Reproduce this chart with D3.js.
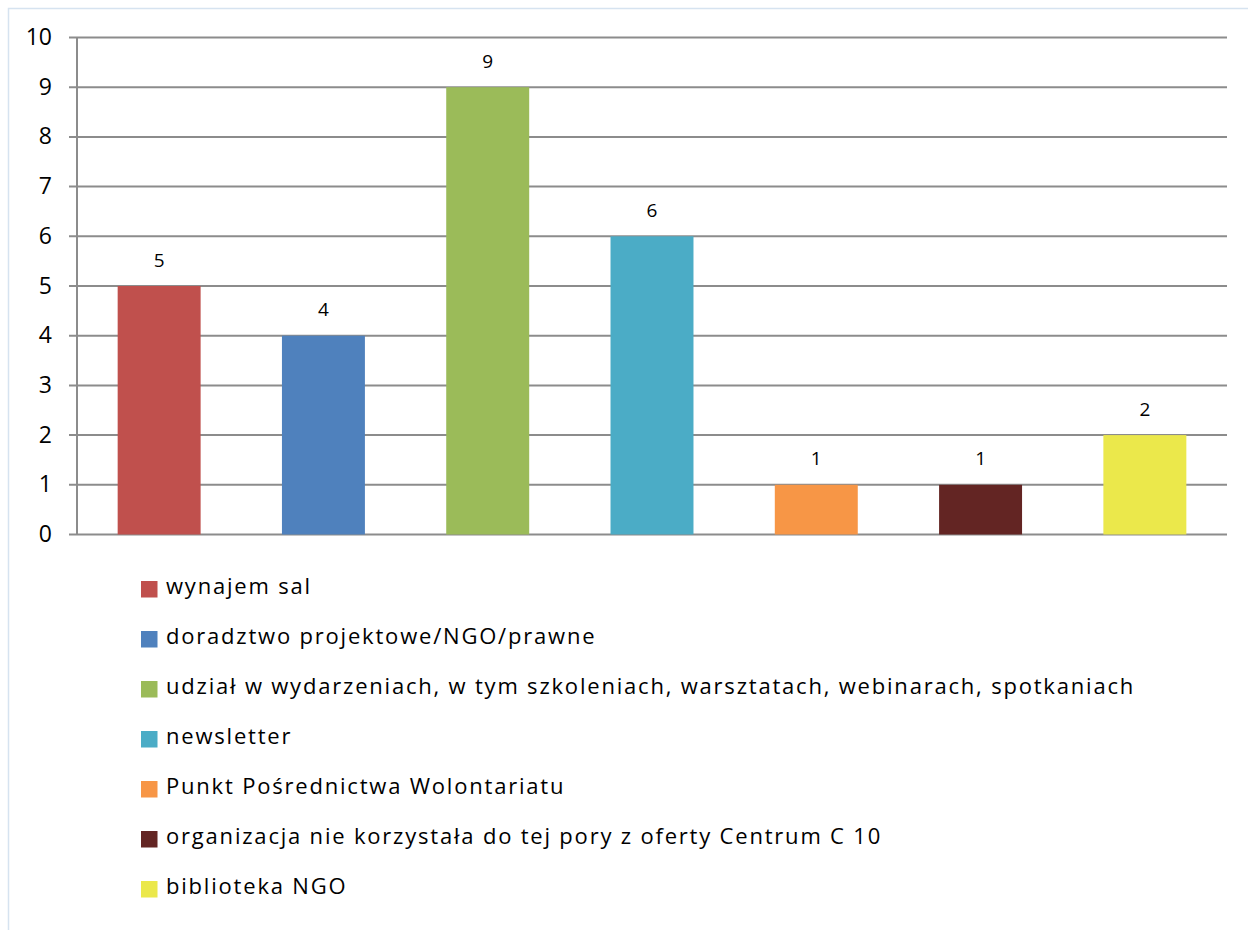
<!DOCTYPE html>
<html lang="pl">
<head>
  <meta charset="UTF-8" />
  <title>Oferta Centrum</title>
  <script src="https://d3js.org/d3.v7.min.js"></script>
  <style>
    body {
      margin: 0;
      background: #fff;
      font-family: "Open Sans", Lato, sans-serif;
    }
    svg { display: block; }
  </style>
</head>
<body>
  <svg id="chart" width="1248" height="930"></svg>

  <script>
    const categories = [
      "wynajem sal",
      "doradztwo projektowe/NGO/prawne",
      "udział w wydarzeniach, w tym szkoleniach, warsztatach, webinarach, spotkaniach",
      "newsletter",
      "Punkt Pośrednictwa Wolontariatu",
      "organizacja nie korzystała do tej pory z oferty Centrum C 10",
      "biblioteka NGO"
    ];
    const values = [5, 4, 9, 6, 1, 1, 2];
    const colors = ["#C0504D", "#4F81BD", "#9BBB59", "#4BACC6", "#F79646", "#632523", "#EBE84B"];
    const yTicks = [0, 1, 2, 3, 4, 5, 6, 7, 8, 9, 10];

    const svg = d3.select("#chart");

    // outer frame (only left and top edges visible)
    svg.append("rect")
      .attr("x", 8.5).attr("y", 8.5)
      .attr("width", 1300).attr("height", 1000)
      .attr("fill", "none")
      .attr("stroke", "#d6e3f0")
      .attr("stroke-width", 1.5);

    const margin = { top: 37.5, left: 77, right: 1227, bottom: 534.5 };

    const x = d3.scaleBand()
      .domain(categories)
      .range([margin.left, margin.right])
      .paddingInner(0.495)
      .paddingOuter(0.2475);

    const y = d3.scaleLinear()
      .domain([0, 10])
      .range([margin.bottom, margin.top]);

    // gridlines
    svg.append("g")
      .selectAll("line")
      .data(yTicks)
      .enter()
      .append("line")
      .attr("x1", margin.left - 8)
      .attr("x2", margin.right)
      .attr("y1", d => y(d))
      .attr("y2", d => y(d))
      .attr("stroke", "#8c8c8c")
      .attr("stroke-width", 2);

    // y axis line
    svg.append("line")
      .attr("x1", margin.left).attr("x2", margin.left)
      .attr("y1", margin.top).attr("y2", margin.bottom)
      .attr("stroke", "#8c8c8c")
      .attr("stroke-width", 2);

    // y tick labels
    svg.append("g")
      .selectAll("text")
      .data(yTicks)
      .enter()
      .append("text")
      .attr("x", 52)
      .attr("y", d => y(d) + 7.5)
      .attr("text-anchor", "end")
      .attr("font-size", "23px")
      .attr("fill", "#000")
      .text(d => d);

    // bars
    svg.append("g")
      .selectAll("rect")
      .data(values)
      .enter()
      .append("rect")
      .attr("x", (d, i) => x(categories[i]))
      .attr("y", d => y(d))
      .attr("width", x.bandwidth())
      .attr("height", d => y(0) - y(d))
      .attr("fill", (d, i) => colors[i]);

    // value labels
    svg.append("g")
      .selectAll("text")
      .data(values)
      .enter()
      .append("text")
      .attr("x", (d, i) => x(categories[i]) + x.bandwidth() / 2)
      .attr("y", d => y(d) - 19.5)
      .attr("text-anchor", "middle")
      .attr("font-size", "19px")
      .attr("fill", "#000")
      .text(d => d);

    // legend
    const legend = svg.append("g")
      .selectAll("g")
      .data(categories)
      .enter()
      .append("g")
      .attr("transform", (d, i) => `translate(141, ${589 + i * 50})`);

    legend.append("rect")
      .attr("x", 0).attr("y", -8)
      .attr("width", 16.5).attr("height", 16.5)
      .attr("fill", (d, i) => colors[i]);

    legend.append("text")
      .attr("x", 25)
      .attr("y", 5)
      .attr("font-size", "22px")
      .attr("letter-spacing", "1.8px")
      .attr("fill", "#000")
      .text(d => d);
  </script>
</body>
</html>
